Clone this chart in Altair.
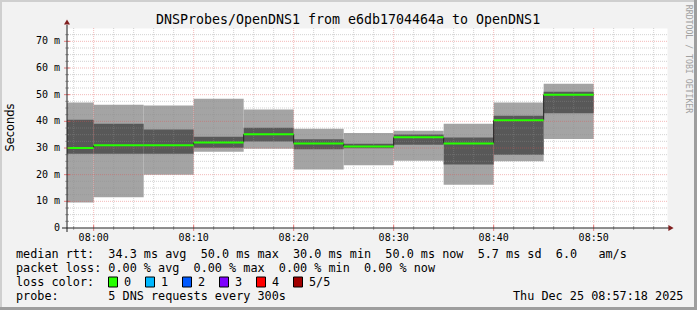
import altair as alt
import pandas as pd
import numpy as np

# ---------------- data ----------------
TITLE = "DNSProbes/OpenDNS1 from e6db1704464a to OpenDNS1"
seg_end = ["08:00", "08:05", "08:10", "08:15", "08:20", "08:25",
           "08:30", "08:35", "08:40", "08:45", "08:50"]
ping_max = [47.1, 46.2, 45.9, 48.5, 44.4, 37.2, 35.6, 36.5, 39.1, 47.1, 54.1]
ping_q3 = [40.6, 39.1, 36.9, 34.2, 37.6, 33.3, 31.6, 35.1, 33.9, 42.1, 51.1]
ping_med = [30.0, 31.0, 31.0, 32.1, 35.2, 31.7, 30.6, 34.0, 31.7, 40.4, 50.0]
ping_q1 = [27.8, 27.8, 27.8, 30.1, 32.4, 29.5, 29.9, 31.2, 23.8, 27.5, 43.0]
ping_min = [9.6, 11.5, 20.0, 28.6, 29.7, 21.9, 23.5, 25.2, 16.2, 25.0, 33.4]

x_tick_labels = ["08:00", "08:10", "08:20", "08:30", "08:40", "08:50"]
y_tick_values = [0, 10, 20, 30, 40, 50, 60, 70]
y_tick_labels = ["0\u00a0\u00a0", "10 m", "20 m", "30 m", "40 m", "50 m", "60 m", "70 m"]

legend_lines = [
    "median rtt:  34.3 ms avg  50.0 ms max  30.0 ms min  50.0 ms now  5.7 ms sd  6.0   am/s",
    "packet loss: 0.00 % avg  0.00 % max  0.00 % min  0.00 % now",
    "loss color:",
    "probe:       5 DNS requests every 300s",
]
loss_labels = ["0", "1", "2", "3", "4", "5/5"]
loss_colors = ["#26ff00", "#00b8ff", "#0059ff", "#7e00ff", "#ff0000", "#a10000"]
date_text = "Thu Dec 25 08:57:18 2025"
side_text = "RRDTOOL / TOBI OETIKER"
y_title = "Seconds"

# ---------------- helpers ----------------
def tmin(s):
    h, m = s.split(":")
    return (int(h) - 8) * 60 + int(m)

X0 = -8.0 / 3.0
X1 = X0 + 60.0
XS = alt.Scale(domain=[X0, X1], nice=False, zero=False)
YS = alt.Scale(domain=[0, 75], nice=False, zero=False)

ends = [tmin(s) for s in seg_end]
seg = pd.DataFrame({
    "start": [e - 5 for e in ends], "end": ends,
    "hi": ping_max, "q3": ping_q3, "med": ping_med, "q1": ping_q1, "lo": ping_min,
})
conn = pd.DataFrame({
    "x": ends[:-1], "a": ping_med[:-1], "b": ping_med[1:],
})

one = pd.DataFrame({"k": [0]})
MONO = "DejaVu Sans Mono"

def nb(s):
    return s.replace(" ", "\u00a0")

layers = []

def box(x, x2, y, y2, color, stroke=None):
    kw = dict(color=color)
    if stroke:
        kw = dict(fill=color, stroke=stroke, strokeWidth=1)
    return alt.Chart(one).mark_rect(**kw).encode(
        x=alt.value(x), x2=alt.value(x2), y=alt.value(y), y2=alt.value(y2))

# smoke
layers.append(alt.Chart(seg).mark_rect(color="#a4a4a4", clip=True).encode(
    x=alt.X("start:Q", scale=XS, axis=None), x2="end:Q",
    y=alt.Y("lo:Q", scale=YS, axis=None), y2="hi:Q"))
layers.append(alt.Chart(seg).mark_rect(color="#585858", clip=True).encode(
    x=alt.X("start:Q", scale=XS, axis=None), x2="end:Q",
    y=alt.Y("q1:Q", scale=YS, axis=None), y2="q3:Q"))

# grid
ygrid = np.arange(2.5, 75.0, 2.5)
ymin_ = pd.DataFrame({"v": [v for v in ygrid if v % 10 != 0]})
ymaj_ = pd.DataFrame({"v": [v for v in ygrid if v % 10 == 0]})
xgrid = np.arange(-2, 58, 2)
xmin_ = pd.DataFrame({"v": [v for v in xgrid if v % 10 != 0]})
xmaj_ = pd.DataFrame({"v": [v for v in xgrid if v % 10 == 0]})

GRID = dict(color="#8f8f8f", opacity=0.4, strokeDash=[1, 1], strokeWidth=1)
MGRID = dict(color="#de4f4f", opacity=0.4, strokeDash=[1, 1], strokeWidth=1)
layers.append(alt.Chart(ymin_).mark_rule(**GRID).encode(
    y=alt.Y("v:Q", scale=YS, axis=None)))
layers.append(alt.Chart(xmin_).mark_rule(**GRID).encode(
    x=alt.X("v:Q", scale=XS, axis=None)))
layers.append(alt.Chart(ymaj_).mark_rule(**MGRID).encode(
    y=alt.Y("v:Q", scale=YS, axis=None)))
layers.append(alt.Chart(xmaj_).mark_rule(**MGRID).encode(
    x=alt.X("v:Q", scale=XS, axis=None)))

# median
layers.append(alt.Chart(conn).mark_rule(color="#1f1f1f", strokeWidth=1).encode(
    x=alt.X("x:Q", scale=XS, axis=None),
    y=alt.Y("a:Q", scale=YS, axis=None), y2="b:Q"))
layers.append(alt.Chart(seg).mark_rule(color="#26ff00", strokeWidth=2, clip=True).encode(
    x=alt.X("start:Q", scale=XS, axis=None), x2="end:Q",
    y=alt.Y("med:Q", scale=YS, axis=None)))

# axis ticks
layers.append(alt.Chart(xmin_).mark_rule(color="#8f8f8f", strokeWidth=1, opacity=0.7).encode(
    x=alt.X("v:Q", scale=XS, axis=None), y=alt.value(198), y2=alt.value(202)))
layers.append(alt.Chart(xmaj_).mark_rule(color="#de4f4f", strokeWidth=1, opacity=0.7).encode(
    x=alt.X("v:Q", scale=XS, axis=None), y=alt.value(197), y2=alt.value(203)))
layers.append(alt.Chart(ymin_).mark_rule(color="#8f8f8f", strokeWidth=1, opacity=0.7).encode(
    y=alt.Y("v:Q", scale=YS, axis=None), x=alt.value(-2), x2=alt.value(2)))
layers.append(alt.Chart(ymaj_).mark_rule(color="#de4f4f", strokeWidth=1, opacity=0.7).encode(
    y=alt.Y("v:Q", scale=YS, axis=None), x=alt.value(-3), x2=alt.value(3)))

# axis lines + arrows
layers.append(alt.Chart(one).mark_rule(color="#1f1f1f", strokeWidth=1).encode(
    x=alt.value(0), y=alt.value(-3), y2=alt.value(204)))
layers.append(alt.Chart(one).mark_rule(color="#1f1f1f", strokeWidth=1).encode(
    y=alt.value(200), x=alt.value(-5), x2=alt.value(603)))
layers.append(alt.Chart(one).mark_point(shape="triangle-right", filled=True, size=36,
                                        color="#801f1f", opacity=1).encode(
    x=alt.value(604), y=alt.value(200)))
layers.append(alt.Chart(one).mark_point(shape="triangle-up", filled=True, size=36,
                                        color="#801f1f", opacity=1).encode(
    x=alt.value(0), y=alt.value(-6)))

# tick labels
ylab = pd.DataFrame({"v": y_tick_values, "t": [nb(s) for s in y_tick_labels]})
layers.append(alt.Chart(ylab).mark_text(font=MONO, fontSize=10, align="right",
                                        baseline="middle", color="#000000").encode(
    y=alt.Y("v:Q", scale=YS, axis=None), x=alt.value(-7), text="t:N"))
xlab = pd.DataFrame({"v": [tmin(s) for s in x_tick_labels], "t": x_tick_labels})
layers.append(alt.Chart(xlab).mark_text(font=MONO, fontSize=10, align="center",
                                        baseline="middle", color="#000000").encode(
    x=alt.X("v:Q", scale=XS, axis=None), y=alt.value(210), text="t:N"))

# texts
def txt(s, x, y, size, align="left", font=MONO, color="#000000", angle=None):
    kw = dict(text=nb(s), font=font, fontSize=size, align=align,
              baseline="middle", color=color)
    if angle is not None:
        kw["angle"] = angle
    return alt.Chart(one).mark_text(**kw).encode(x=alt.value(x), y=alt.value(y))

layers.append(txt(TITLE, 281, -8, 13.3, align="center"))
layers.append(txt(y_title, -56.5, 99.5, 11.4, align="center", font="DejaVu Sans", angle=270))
layers.append(txt(side_text, 621, 31, 8.2, align="center", color="#a0a0a0", angle=90))
line_y = [226.3, 240.3, 254.3, 268.0]
for s, yy in zip(legend_lines, line_y):
    layers.append(txt(s, -51, yy, 11.8))
layers.append(txt(date_text, 446, 268.0, 11.8))
for i, (lab, col) in enumerate(zip(loss_labels, loss_colors)):
    bx = 41.5 + 37 * i
    layers.append(box(bx, bx + 9, 249, 259, col, stroke="#000000"))
    layers.append(txt(lab, bx + 15.5, 254.3, 11.8))

# frame
layers.append(box(-67, 630, -28, -26, "#cfcfcf"))
layers.append(box(-67, -65, -28, 282, "#cfcfcf"))
layers.append(box(-67, 630, 279, 282, "#9e9e9e"))
layers.append(box(627, 630, -28, 282, "#9e9e9e"))

chart = alt.layer(*layers).properties(
    width=600, height=200,
    padding={"left": 67, "top": 28, "right": 30, "bottom": 82},
    autosize=alt.AutoSizeParams(type="none"),
    background="#f2f2f2",
).configure_view(fill="#ffffff", stroke="transparent")

chart.save("out.html", embed_options={"renderer": "svg", "actions": False})
